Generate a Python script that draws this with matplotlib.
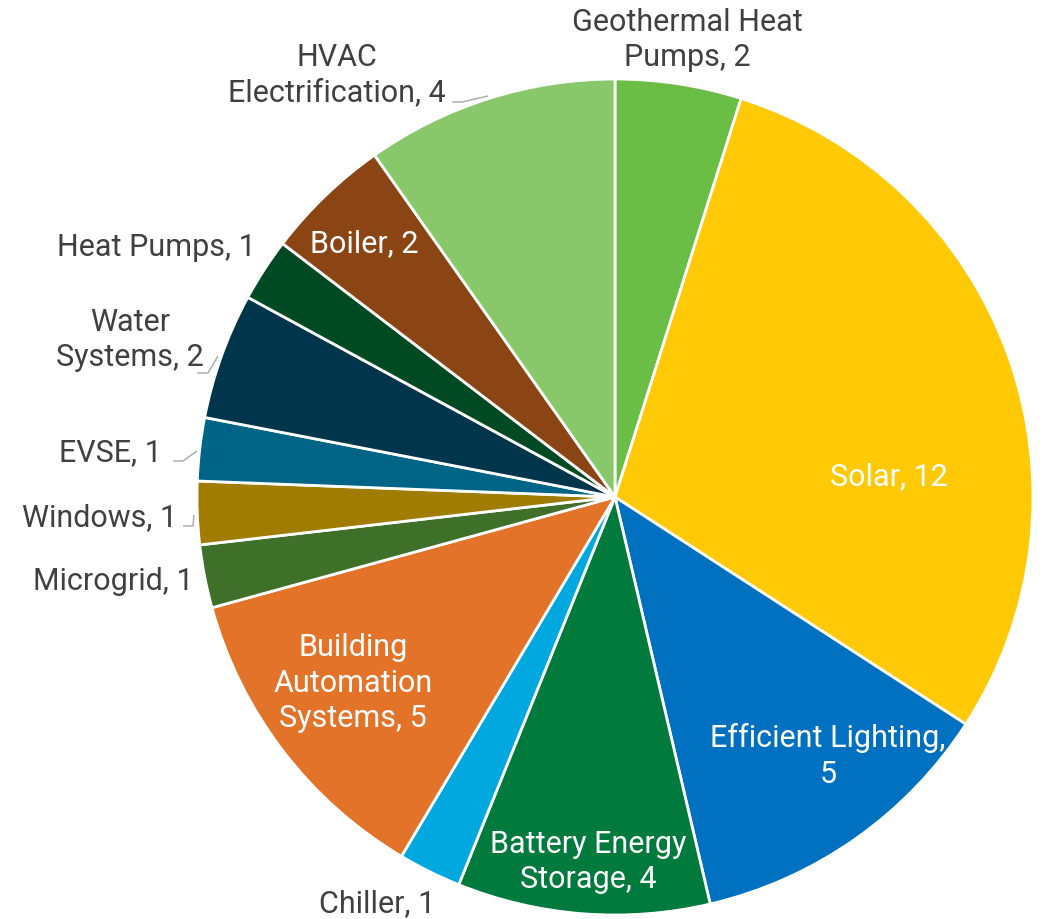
import matplotlib
matplotlib.use("Agg")
import matplotlib.pyplot as plt
import numpy as np

categories = ["Geothermal Heat\nPumps", "Solar", "Efficient Lighting,\n", "Battery Energy\nStorage", "Chiller",
              "Building\nAutomation\nSystems", "Microgrid", "Windows", "EVSE", "Water\nSystems",
              "Heat Pumps", "Boiler", "HVAC\nElectrification"]
values = [2, 12, 5, 4, 1, 5, 1, 1, 1, 2, 1, 2, 4]
colors = ["#6ABD45", "#FFCA05", "#0071C0", "#007A3D", "#00A8E0", "#E27328", "#3E7029",
          "#A07D00", "#006487", "#00354C", "#004A23", "#8B4514", "#89C86A"]

W, H = 1046, 920
CX, CY, R = 615, 498, 418

fig = plt.figure(figsize=(W / 100, H / 100), dpi=100)
ax = fig.add_axes([0, 0, 1, 1])

ax.pie(values, colors=colors, startangle=90, counterclock=False, radius=1.0,
       wedgeprops=dict(edgecolor="white", linewidth=2.0))

ax.set_xlim((0 - CX) / R, (W - CX) / R)
ax.set_ylim((CY - H) / R, CY / R)
ax.set_aspect("equal")
ax.axis("off")


def px(x, y):
    return (x - CX) / R, (CY - y) / R


def make_label(i):
    name = categories[i]
    if name.endswith(",\n"):
        return name + str(values[i])
    return name + ", " + str(values[i])


# layout: label centers in pixel coordinates, text color
layout = {
    0: ((687, 40), "#404040"),
    1: ((889, 477), "white"),
    2: ((828, 756), "white"),
    3: ((588, 862), "white"),
    4: ((377, 904), "#404040"),
    5: ((353, 683), "white"),
    6: ((113, 581), "#404040"),
    7: ((100, 518), "#404040"),
    8: ((110, 453), "#404040"),
    9: ((130, 340), "#404040"),
    10: ((156, 247), "#404040"),
    11: ((364, 244), "white"),
    12: ((337, 75), "#404040"),
}

font = ["Roboto", "DejaVu Sans"]
for i in range(len(values)):
    (x, y), c = layout[i]
    lx, ly = px(x, y)
    ax.text(lx, ly, make_label(i), ha="center", va="center", color=c, fontsize=22,
            family=font, linespacing=1.28)

# leader lines (pixel coordinates)
leaders = [
    [(452, 103), (462, 103), (488, 97)],
    [(197, 374), (208, 374), (218, 357)],
    [(173, 462), (183, 462), (197, 452)],
    [(183, 527), (193, 527), (194, 516)],
]
for pts in leaders:
    xs, ys = zip(*[px(a, b) for a, b in pts])
    ax.plot(xs, ys, color="#A6A6A6", lw=1.0, solid_capstyle="butt")

fig.savefig("out.png", dpi=100, facecolor="white")
